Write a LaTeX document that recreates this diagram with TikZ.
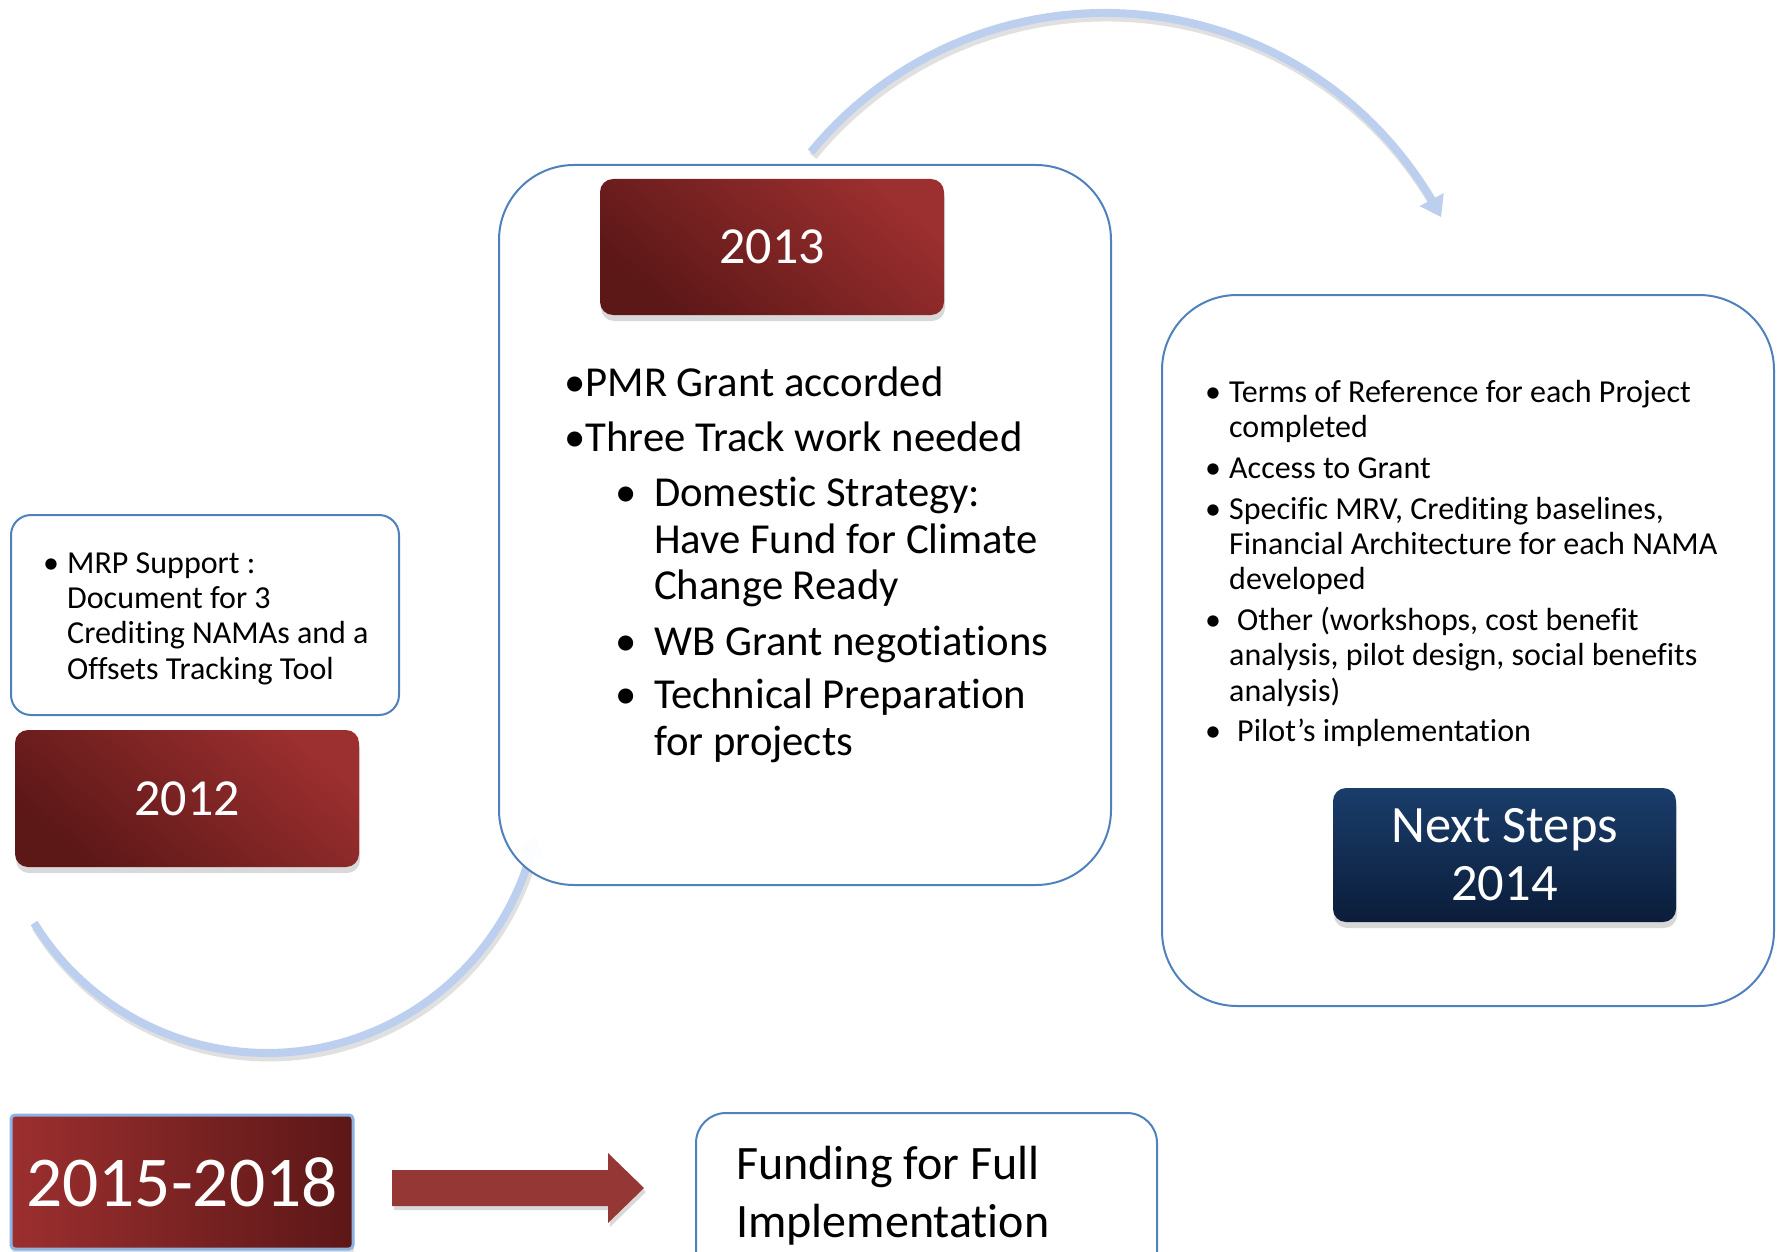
\documentclass[tikz,border=0pt]{standalone}
\usepackage{fontspec}
\setmainfont{Carlito}[Ligatures=NoCommon]
\usetikzlibrary{shadows,arrows.meta}
\definecolor{boxblue}{HTML}{4F81BD}
\definecolor{redlight}{HTML}{9C2F2F}
\definecolor{reddark}{HTML}{5C1717}
\definecolor{navytop}{HTML}{1A3D6B}
\definecolor{navybot}{HTML}{0B1D3A}
\definecolor{arccol}{HTML}{BCCFEE}
\definecolor{arrowred}{HTML}{953735}
\definecolor{edgeblue}{HTML}{8DB3E2}
\newcommand{\fs}[2]{\fontsize{#1}{#2}\selectfont}
\begin{document}
\begin{tikzpicture}[x=1pt,y=-1pt,
  outline/.style={draw=boxblue, line width=2pt, fill=white, rounded corners=#1, inner sep=0},
  redbox/.style={rounded corners=13pt, inner sep=0, top color=redlight, bottom color=reddark, shading angle=-40, text=white,
     drop shadow={shadow xshift=1pt, shadow yshift=-6pt, opacity=0.3}},
  navybox/.style={rounded corners=13pt, inner sep=0, top color=navytop, bottom color=navybot, text=white, align=center,
     drop shadow={shadow xshift=1pt, shadow yshift=-6pt, opacity=0.3}},
  txt/.style={inner sep=0, anchor=base west},
  ta/.style={txt, font={\fs{32}{35}}},
  tb/.style={txt, font={\fs{42.7}{47}}},
  arcline/.style={draw=arccol, line width=8pt},
  arcshadow/.style={draw=black, opacity=0.12, line width=9pt},
]
\useasboundingbox (0,0) rectangle (1781,1252);
\clip (0,0) rectangle (1781,1252);

% arcs
\draw[arcshadow] plot[domain=-140.7:-30, samples=60] ({1106.6+379.5*cos(\x)},{396.4+379.5*sin(\x)});
\draw[arcline, -{Triangle[width=26pt,length=20pt]}] plot[domain=-140.7:-27.5, samples=60] ({1104.6+379.5*cos(\x)},{392.4+379.5*sin(\x)});
\draw[arcshadow] plot[domain=148.3:17, samples=60] ({269.2+274.1*cos(\x)},{782.9+274.1*sin(\x)});
\draw[arcline, -{Triangle[width=26pt,length=20pt]}] plot[domain=148.3:12, samples=60] ({267.2+274.1*cos(\x)},{778.9+274.1*sin(\x)});

% boxes
\node[outline=20pt, minimum width=388pt, minimum height=200pt] (mrp) at (205,615) {};
\node[redbox, minimum width=344pt, minimum height=137pt, font={\fs{52}{58}}] (y2012) at (187,798.5) {2012};
\node[outline=75pt, minimum width=612pt, minimum height=720pt, fill opacity=0.96, draw opacity=1] (b2013) at (805,525) {};
\node[redbox, minimum width=344pt, minimum height=136pt, font={\fs{52}{58}}] (y2013) at (772,247) {2013};
\node[outline=75pt, minimum width=612pt, minimum height=711pt] (b2014) at (1468,650.5) {};
\node[navybox, minimum width=343pt, minimum height=134pt, font={\fs{52.5}{58}}] (y2014) at (1504.5,855) {Next Steps\\2014};
\node[draw=edgeblue, line width=3pt, rounded corners=4pt, inner sep=0, left color=redlight, right color=reddark, text=white,
  minimum width=342pt, minimum height=134pt, font={\fs{71.5}{80}},
  drop shadow={shadow xshift=1pt, shadow yshift=-5pt, opacity=0.25}] (y2015) at (182,1182) {2015-2018};
\node[outline=30pt, minimum width=461pt, minimum height=177pt] (fund) at (926.5,1201.5) {};

% block arrow
\coordinate (a0) at (392,1170);
\coordinate (a1) at (392,1206);
\fill[black, opacity=0.15] (394,1174) -- (610,1174) -- (610,1157) -- (646,1192) -- (610,1227) -- (610,1210) -- (394,1210) -- cycle;
\fill[arrowred] (a0) -- (608,1170) -- (608,1153) -- (644,1188) -- (608,1223) -- (608,1206) -- (a1) -- cycle;

% MRP text
\node[ta] (mb1) at (43,573) {•};
\node[ta] (m1) at (67,573) {MRP Support :};
\node[ta] (m2) at (67,608) {Document for 3};
\node[ta] (m3) at (67,643) {Crediting NAMAs and a};
\node[ta] (m4) at (67,679) {Offsets Tracking Tool};

% 2013 text
\node[tb] (p1) at (564,396) {•PMR Grant accorded};
\node[tb] (p2) at (564,451) {•Three Track work needed};
\node[tb] (sb1) at (615,506) {•};
\node[tb] (s1) at (654,506) {Domestic Strategy:};
\node[tb] (s2) at (654,553) {Have Fund for Climate};
\node[tb] (s3) at (654,599) {Change Ready};
\node[tb] (sb2) at (615,655) {•};
\node[tb] (s4) at (654,655) {WB Grant negotiations};
\node[tb] (sb3) at (615,708) {•};
\node[tb] (s5) at (654,708) {Technical Preparation};
\node[tb] (s6) at (654,755) {for projects};

% 2014 text
\node[ta] (rb1) at (1205,402) {•};
\node[ta] (r1) at (1229,402) {Terms of Reference for each Project};
\node[ta] (r2) at (1229,437) {completed};
\node[ta] (rb2) at (1205,478) {•};
\node[ta] (r3) at (1229,478) {Access to Grant};
\node[ta] (rb3) at (1205,519) {•};
\node[ta] (r4) at (1229,519) {Specific MRV, Crediting baselines,};
\node[ta] (r5) at (1229,554) {Financial Architecture for each NAMA};
\node[ta] (r6) at (1229,589) {developed};
\node[ta] (rb4) at (1205,630) {•};
\node[ta] (r7) at (1237,630) {Other (workshops, cost benefit};
\node[ta] (r8) at (1229,665) {analysis, pilot design, social benefits};
\node[ta] (r9) at (1229,701) {analysis)};
\node[ta] (rb5) at (1205,741) {•};
\node[ta] (r10) at (1237,741) {Pilot’s implementation};

% funding text
\node[txt, font={\fs{48}{58}}] (f1) at (736,1179) {Funding for Full};
\node[txt, font={\fs{48}{58}}] (f2) at (736,1237) {Implementation};
\end{tikzpicture}
\end{document}
